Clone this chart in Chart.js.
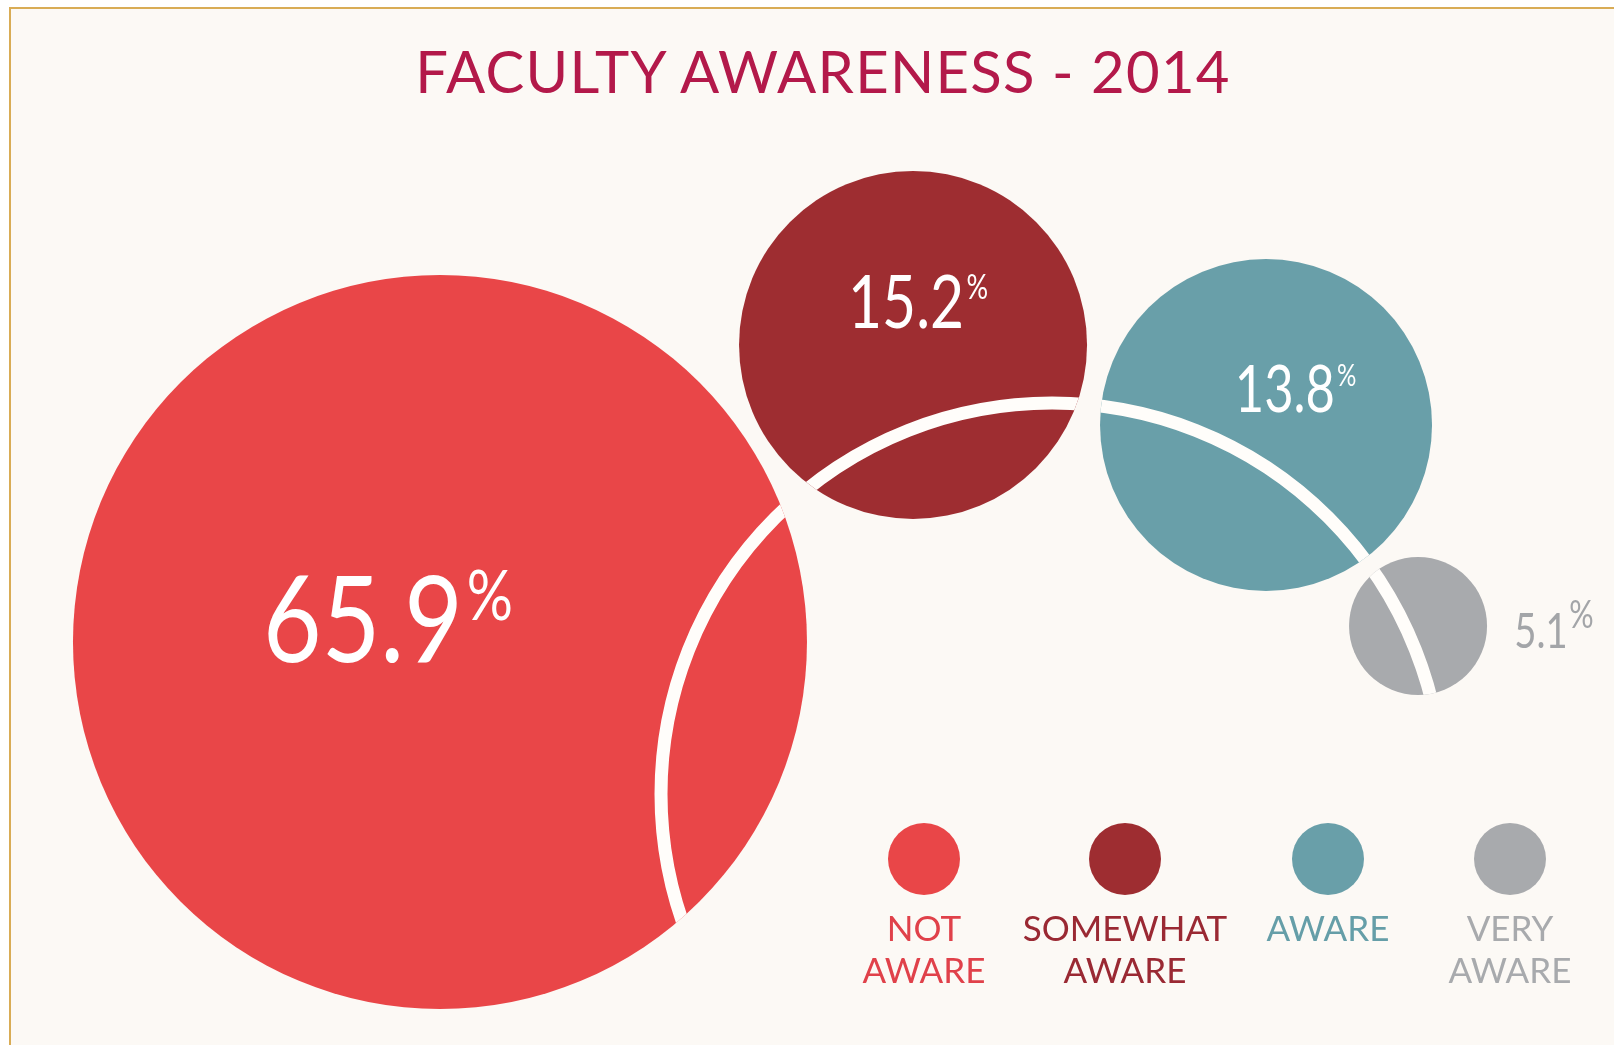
<!DOCTYPE html>
<html>
<head>
<meta charset="utf-8">
<script src="https://cdn.jsdelivr.net/npm/chart.js@4.4.1/dist/chart.umd.min.js"></script>
<style>
  html, body { margin: 0; padding: 0; background: #ffffff; }
  body { width: 1614px; height: 1045px; position: relative; overflow: hidden; }
  .frame {
    position: absolute; left: 9px; top: 7px; right: 0; bottom: 0;
    background: #fcf9f5;
    border-top: 2px solid #d9ac55;
    border-left: 2px solid #d9ac55;
  }
  h1 {
    position: absolute; left: 0; width: 1646px; top: 42px; margin: 0;
    text-align: center; font: 400 58px/1 Lato, sans-serif;
    color: #b3194a; letter-spacing: 1.3px; z-index: 2;
  }
  canvas { position: absolute; left: 0; top: 0; z-index: 1; }
</style>
</head>
<body>
<div class="frame"></div>
<h1>FACULTY AWARENESS - 2014</h1>
<canvas id="awarenessChart" width="1614" height="1045"></canvas>
<script>
// Faculty awareness survey, 2014 (share of respondents in %)
const categories = ['NOT AWARE', 'SOMEWHAT AWARE', 'AWARE', 'VERY AWARE'];
const percentages = [65.9, 15.2, 13.8, 5.1];

// bubble placement on a 0-100 layout grid, radius in px
const bubbleX = [27.26, 56.57, 78.44, 87.86];
const bubbleY = [38.56, 66.99, 59.33, 40.10];
const bubbleR = [367, 174, 166, 69];

const colors = ['#e94648', '#9e2d31', '#699fa9', '#a8aaad'];
const textColors = ['#e0414a', '#9a2933', '#659ea8', '#a8aaad'];

// white arc running through the bubbles
const arcCenter = [65.18, 24.02];
const arcRadius = 391;

// value labels: centre x / baseline y on the grid, sizes in px
const labelX = [24.04, 56.88, 80.27, 96.28];
const labelY = [36.65, 68.61, 60.57, 37.99];
const labelWidth = [250, 140, 121, 78];
const numSize = [121, 74, 65, 49];
const pctSize = [69, 34, 31, 39];
const pctRaise = [5, 0, 2, 13];
const labelColors = ['#ffffff', '#ffffff', '#ffffff', '#a3a5a8'];

const arcPlugin = {
    id: 'whiteArc',
    afterDatasetsDraw(chart) {
        const { ctx, scales: { x, y } } = chart;
        const pts = chart.getDatasetMeta(0).data;
        ctx.save();
        // only show the arc where it crosses a bubble
        ctx.beginPath();
        pts.forEach(p => {
            const r = p.options.radius;
            ctx.moveTo(p.x + r, p.y);
            ctx.arc(p.x, p.y, r, 0, Math.PI * 2);
        });
        ctx.clip();
        ctx.beginPath();
        ctx.arc(x.getPixelForValue(arcCenter[0]), y.getPixelForValue(arcCenter[1]), arcRadius, 0, Math.PI * 2);
        ctx.lineWidth = 13;
        ctx.strokeStyle = '#fffdfa';
        ctx.stroke();
        ctx.restore();
    }
};

const valueLabels = {
    id: 'valueLabels',
    afterDatasetsDraw(chart) {
        const { ctx, scales: { x, y } } = chart;
        percentages.forEach((v, i) => {
            const num = v.toFixed(1);
            ctx.save();
            ctx.font = '400 ' + numSize[i] + 'px Lato';
            const numW = ctx.measureText(num).width;
            ctx.font = '400 ' + pctSize[i] + 'px Lato';
            const pctW = ctx.measureText('%').width;
            const gap = numSize[i] * 0.04;
            const total = numW + gap + pctW;
            const s = Math.max(0.78, Math.min(1, labelWidth[i] / total));
            const base = y.getPixelForValue(labelY[i]);
            ctx.translate(x.getPixelForValue(labelX[i]), base);
            ctx.scale(s, 1);
            ctx.fillStyle = labelColors[i];
            ctx.textBaseline = 'alphabetic';
            ctx.textAlign = 'left';
            ctx.font = '400 ' + numSize[i] + 'px Lato';
            ctx.fillText(num, -total / 2, 0);
            // superscript percent sign
            const top = -numSize[i] * 0.72 - pctRaise[i];
            ctx.font = '400 ' + pctSize[i] + 'px Lato';
            ctx.fillText('%', -total / 2 + numW + gap, top + pctSize[i] * 0.72);
            ctx.restore();
        });
    }
};

const bubbleLegend = {
    id: 'bubbleLegend',
    afterDraw(chart) {
        const ctx = chart.ctx;
        const cx = [924, 1125, 1328, 1510];
        ctx.save();
        categories.forEach((c, i) => {
            ctx.beginPath();
            ctx.arc(cx[i], 859, 36, 0, Math.PI * 2);
            ctx.fillStyle = colors[i];
            ctx.fill();
            ctx.fillStyle = textColors[i];
            ctx.font = '400 35px Lato';
            ctx.textAlign = 'center';
            ctx.textBaseline = 'alphabetic';
            c.split(' ').forEach((line, j) => {
                ctx.fillText(line, cx[i], 941 + j * 42);
            });
        });
        ctx.restore();
    }
};

const ctx = document.getElementById('awarenessChart').getContext('2d');
const awarenessChart = new Chart(ctx, {
    type: 'bubble',
    data: {
        labels: categories,
        datasets: [{
            label: 'Faculty awareness',
            data: percentages.map((v, i) => ({ x: bubbleX[i], y: bubbleY[i], r: bubbleR[i] })),
            backgroundColor: colors,
            borderWidth: 0,
            hoverRadius: 0,
            clip: false
        }]
    },
    options: {
        responsive: false,
        animation: false,
        events: [],
        layout: { padding: 0, autoPadding: false },
        scales: {
            x: { type: 'linear', min: 0, max: 100, display: false },
            y: { type: 'linear', min: 0, max: 100, display: false }
        },
        plugins: {
            legend: { display: false },
            tooltip: { enabled: false }
        }
    },
    plugins: [arcPlugin, valueLabels, bubbleLegend]
});
</script>
</body>
</html>
